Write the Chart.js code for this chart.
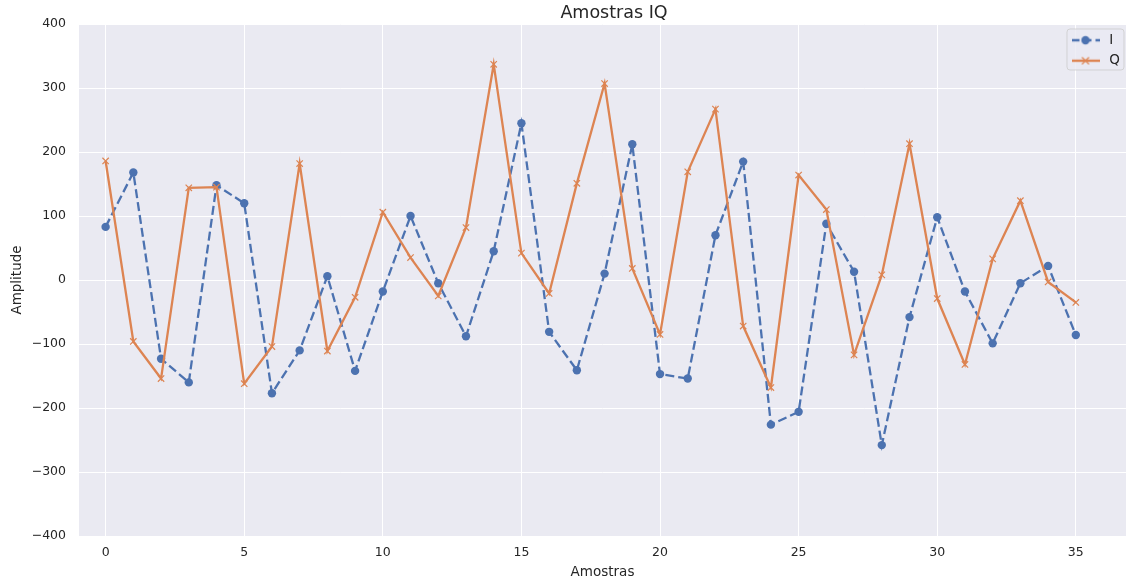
<!DOCTYPE html>
<html>
<head>
<meta charset="utf-8">
<script src="https://cdn.jsdelivr.net/npm/chart.js@4/dist/chart.umd.min.js"></script>
<style>
  html, body { margin: 0; padding: 0; background: #ffffff; }
  #wrap { width: 1126px; height: 579px; }
</style>
</head>
<body>
<div id="wrap"><canvas id="c" width="1126" height="579"></canvas></div>
<script>
const samples = [0,1,2,3,4,5,6,7,8,9,10,11,12,13,14,15,16,17,18,19,20,21,22,23,24,25,26,27,28,29,30,31,32,33,34,35];
const iValues = [83,168,-123,-160,148,120,-177,-110,6,-142,-18,100,-5,-88,45,245,-81,-141,10,212,-147,-154,70,185,-226,-206,88,13,-258,-58,98,-18,-99,-5,22,-86];
const qValues = [186,-96,-154,144,145,-162,-104,182,-111,-27,106,35,-25,82,337,42,-21,151,307,18,-85,169,267,-72,-168,164,110,-117,8,213,-29,-132,33,124,-3,-35];
const xTicks = [0,5,10,15,20,25,30,35];
const yTicks = [-400,-300,-200,-100,0,100,200,300,400];
const seriesNames = ['I', 'Q'];

const BLUE = '#4C72B0';
const ORANGE = '#DD8452';
const TEXT = '#262626';
const FONT = "'DejaVu Sans', sans-serif";

function makeSample(kind) {
  const cv = document.createElement('canvas');
  cv.width = 28; cv.height = 14;
  const g = cv.getContext('2d');
  g.lineWidth = 2.4;
  if (kind === 'I') {
    g.strokeStyle = BLUE;
    g.setLineDash([8, 4]);
    g.beginPath(); g.moveTo(0, 7); g.lineTo(28, 7); g.stroke();
    g.setLineDash([]);
    g.fillStyle = BLUE;
    g.beginPath(); g.arc(14, 7, 4.2, 0, Math.PI * 2); g.fill();
  } else {
    g.strokeStyle = ORANGE;
    g.beginPath(); g.moveTo(0, 7); g.lineTo(28, 7); g.stroke();
    g.lineWidth = 1.2;
    g.beginPath();
    g.moveTo(10.5, 3.5); g.lineTo(17.5, 10.5);
    g.moveTo(17.5, 3.5); g.lineTo(10.5, 10.5);
    g.stroke();
  }
  return cv;
}
const sampleI = makeSample('I');
const sampleQ = makeSample('Q');

const bgPlugin = {
  id: 'bg',
  beforeDraw(chart) {
    const a = chart.chartArea, ctx = chart.ctx;
    ctx.save();
    ctx.fillStyle = '#EAEAF2';
    ctx.fillRect(a.left, a.top, a.right - a.left, a.bottom - a.top);
    ctx.restore();
  },
  afterLayout(chart) {
    const a = chart.chartArea;
    const t = chart.titleBlock;
    if (t) {
      // axes in the source figure extend beyond the cropped right edge
      t.left = a.left;
      t.right = a.left + 1070;
    }
    const lg = chart.legend;
    if (!lg) return;
    lg.left = a.right - 64.5;
    lg.top = a.top + 2.5;
    lg.right = a.right;
    lg.bottom = lg.top + 60;
    if (!lg._wrapped) {
      const orig = lg.draw;
      lg.draw = function (area) {
        const ctx = this.ctx;
        const x = this.left + 5.5, y = this.top + 2.5, w = 57, h = 41, r = 3;
        ctx.save();
        ctx.beginPath();
        ctx.moveTo(x + r, y);
        ctx.lineTo(x + w - r, y); ctx.quadraticCurveTo(x + w, y, x + w, y + r);
        ctx.lineTo(x + w, y + h - r); ctx.quadraticCurveTo(x + w, y + h, x + w - r, y + h);
        ctx.lineTo(x + r, y + h); ctx.quadraticCurveTo(x, y + h, x, y + h - r);
        ctx.lineTo(x, y + r); ctx.quadraticCurveTo(x, y, x + r, y);
        ctx.closePath();
        ctx.fillStyle = 'rgba(234,234,242,0.8)';
        ctx.fill();
        ctx.strokeStyle = 'rgba(204,204,204,0.8)';
        ctx.lineWidth = 1;
        ctx.stroke();
        ctx.restore();
        orig.call(this, area);
      };
      lg._wrapped = true;
    }
  }
};

const toPts = (vals) => samples.map((x, i) => ({ x: x, y: vals[i] }));

new Chart(document.getElementById('c'), {
  type: 'line',
  data: {
    datasets: [
      {
        label: seriesNames[0],
        data: toPts(iValues),
        borderColor: BLUE,
        backgroundColor: BLUE,
        borderWidth: 2.3,
        borderDash: [9, 4],
        pointStyle: 'circle',
        pointRadius: 4.2,
        pointBorderWidth: 0,
        pointBackgroundColor: BLUE,
        tension: 0,
        fill: false,
        order: 1
      },
      {
        label: seriesNames[1],
        data: toPts(qValues),
        borderColor: ORANGE,
        backgroundColor: ORANGE,
        borderWidth: 2.3,
        pointStyle: 'crossRot',
        pointRadius: 4.5,
        pointBorderWidth: 1.2,
        pointBorderColor: ORANGE,
        tension: 0,
        fill: false,
        order: 0
      }
    ]
  },
  options: {
    responsive: false,
    animation: false,
    devicePixelRatio: 1,
    layout: { autoPadding: false, padding: { left: 0, right: 0, top: 0, bottom: 0 } },
    plugins: {
      tooltip: { enabled: false },
      title: {
        display: true,
        text: 'Amostras IQ',
        color: TEXT,
        font: { family: FONT, size: 17.5, weight: 'normal' },
        padding: { top: 3, bottom: 0 }
      },
      legend: {
        display: true,
        position: 'chartArea',
        align: 'start',
        labels: {
          usePointStyle: true,
          pointStyleWidth: 34,
          padding: 7,
          color: TEXT,
          font: { family: FONT, size: 13.5 },
          generateLabels: () => [
            { text: seriesNames[0], pointStyle: sampleI, fillStyle: BLUE, strokeStyle: BLUE, lineWidth: 0, hidden: false, datasetIndex: 0, fontColor: TEXT },
            { text: seriesNames[1], pointStyle: sampleQ, fillStyle: ORANGE, strokeStyle: ORANGE, lineWidth: 0, hidden: false, datasetIndex: 1, fontColor: TEXT }
          ]
        }
      }
    },
    scales: {
      x: {
        type: 'linear',
        min: -0.96,
        max: 36.81,
        afterFit: (s) => { s.height = 43; s.paddingLeft = 0; s.paddingRight = 0; },
        afterBuildTicks: (s) => { s.ticks = xTicks.map(v => ({ value: v })); },
        grid: { color: '#ffffff', lineWidth: 1, drawTicks: false },
        border: { display: false },
        ticks: {
          color: TEXT,
          padding: 9.5,
          font: { family: FONT, size: 12.5 },
          maxRotation: 0,
          autoSkip: false,
          callback: (v) => String(v)
        },
        title: {
          display: true,
          text: 'Amostras',
          color: TEXT,
          font: { family: FONT, size: 13.5, lineHeight: 1 },
          padding: { top: 0, bottom: 0 }
        }
      },
      y: {
        type: 'linear',
        min: -400,
        max: 400,
        afterFit: (s) => { s.width = 79; s.paddingTop = 0; s.paddingBottom = 0; },
        afterBuildTicks: (s) => { s.ticks = yTicks.map(v => ({ value: v })); },
        grid: { color: '#ffffff', lineWidth: 1, drawTicks: false },
        border: { display: false },
        ticks: {
          color: TEXT,
          padding: 13,
          font: { family: FONT, size: 12.5 },
          autoSkip: false,
          callback: (v) => String(v).replace('-', '\u2212')
        },
        title: {
          display: true,
          text: 'Amplitude',
          color: TEXT,
          font: { family: FONT, size: 13.5 },
          padding: { top: 9, bottom: 0 }
        }
      }
    }
  },
  plugins: [bgPlugin]
});
</script>
</body>
</html>
